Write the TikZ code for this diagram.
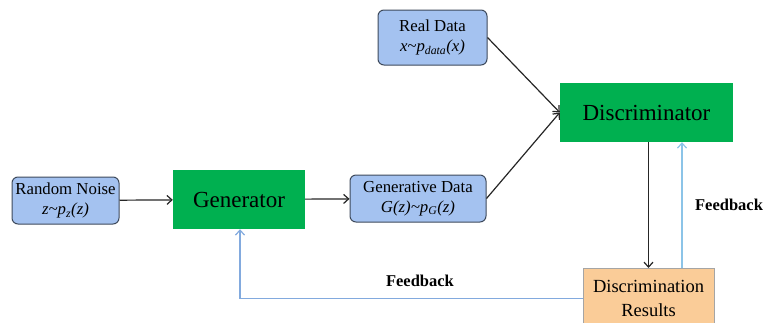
\documentclass[tikz,border=0pt]{standalone}
\usepackage{fontspec}
\setmainfont{Liberation Serif}
\usetikzlibrary{arrows.meta}
\definecolor{databox}{RGB}{164,194,240}
\definecolor{dataedge}{RGB}{62,74,92}
\definecolor{netgreen}{RGB}{0,176,80}
\definecolor{resfill}{RGB}{250,204,152}
\definecolor{resedge}{RGB}{165,165,165}
\definecolor{fbblue}{RGB}{130,170,222}
\definecolor{fbsky}{RGB}{140,196,232}
\tikzset{
  databox/.style={draw=dataedge, line width=1pt, fill=databox, rounded corners=6pt,
    align=center, inner sep=0pt, font=\fontsize{16.8}{20}\selectfont},
  netbox/.style={fill=netgreen, draw=none, inner sep=0pt,
    font=\fontsize{23}{26}\selectfont},
  resbox/.style={fill=resfill, draw=resedge, line width=0.8pt, align=center,
    inner sep=0pt, font=\fontsize{18.5}{24}\selectfont},
  flow/.style={draw=black!85, line width=1.2pt, -{Straight Barb[length=5pt,width=9pt]}},
  fb/.style={draw=#1, line width=1.2pt, -{Straight Barb[length=5pt,width=9pt]}},
  fblabel/.style={font=\fontsize{16.5}{20}\selectfont\bfseries, inner sep=0pt}
}
\begin{document}
\begin{tikzpicture}[x=1pt, y=-1pt]
  \useasboundingbox (0,0) rectangle (766,322);

  % input and data nodes
  \node[databox, minimum width=107pt, minimum height=47pt] (noise) at (65.5,200.5)
    {Random Noise\\ \itshape z\textasciitilde p\textsubscript{z}(z)};
  \node[databox, minimum width=136pt, minimum height=47pt] (gdata) at (418,198.5)
    {Generative Data\\ \itshape G(z)\textasciitilde p\textsubscript{G}(z)};
  \node[databox, minimum width=109pt, minimum height=55pt] (real) at (432.5,37.5)
    {Real Data\\ \itshape x\textasciitilde p\textsubscript{data}(x)};

  % networks
  \node[netbox, minimum width=132pt, minimum height=59pt] (gen) at (239,199.5) {Generator};
  \node[netbox, minimum width=173pt, minimum height=59pt] (disc) at (646.5,112.5) {Discriminator};

  % discrimination output
  \node[resbox, minimum width=131pt, minimum height=60pt, anchor=north] (res) at (648.5,268)
    {Discrimination\\Results};

  % forward flow
  \draw[flow] (noise) -- (gen);
  \draw[flow] (gen) -- (gdata);
  \draw[flow] (real.east) -- (disc.west);
  \draw[flow] (gdata.east) -- (disc.west);
  \draw[flow] (disc.south -| res.north) -- (res.north);

  % feedback paths
  \coordinate (fbup) at ([xshift=33.5pt]res.north);
  \draw[fb=fbsky] (fbup) -- (fbup |- disc.south);
  \draw[fb=fbblue] (res.west) -| ([xshift=1pt]gen.south);

  \node[fblabel] (fbright) at (729,205) {Feedback};
  \node[fblabel] (fbbottom) at (420,281) {Feedback};
\end{tikzpicture}
\end{document}
